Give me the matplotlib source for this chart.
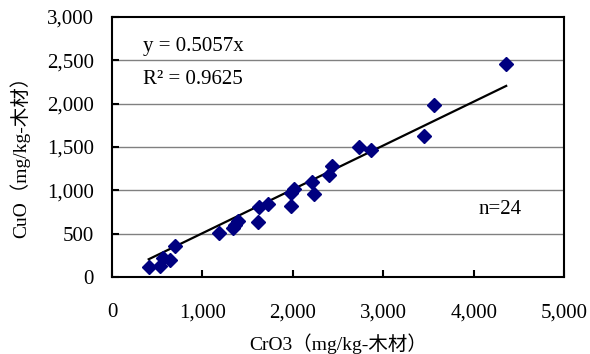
import matplotlib.pyplot as plt
import numpy as np

plt.rcParams['font.family'] = ['Liberation Serif', 'Noto Sans CJK JP']

# CrO3 vs CuO (mg/kg wood)
cro3 = [405, 534, 560, 644, 700, 1186, 1337, 1360, 1392, 1609, 1624, 1723,
        1974, 1977, 2014, 2213, 2239, 2404, 2430, 2728, 2861, 3450, 3557, 4360]
cuo = [112, 123, 219, 200, 362, 508, 565, 600, 650, 631, 804, 842,
       823, 969, 1015, 1092, 958, 1181, 1277, 1500, 1461, 1623, 1988, 2458]
slope = 0.5057
xticks = [0, 1000, 2000, 3000, 4000, 5000]
xtick_labels = ['0', '1,000', '2,000', '3,000', '4,000', '5,000']
yticks = [0, 500, 1000, 1500, 2000, 2500, 3000]
ytick_labels = ['0', '500', '1,000', '1,500', '2,000', '2,500', '3,000']

fig = plt.figure(figsize=(5.9, 3.54), dpi=100)
ax = fig.add_axes([0.190, 0.2175, 0.766, 0.7345])

ax.set_xlim(0, 5000)
ax.set_ylim(0, 3000)

# gridlines
for v in yticks[1:-1]:
    ax.axhline(v, color='#808080', lw=1.0, zorder=1)

# trendline
xl = np.array([min(cro3), max(cro3)])
ax.plot(xl, slope * xl, color='black', lw=1.6, zorder=2)

# points
ax.plot(cro3, cuo, 'D', color='#000080', markersize=7.5, ls='none', zorder=3)

ax.set_yticks(yticks)
ax.set_yticklabels(ytick_labels, fontsize=15)
ax.set_xticks(xticks)
ax.set_xticklabels(xtick_labels, fontsize=15)
ax.tick_params(axis='both', direction='in', length=5, width=1.5)
ax.tick_params(axis='y', pad=13)
ax.tick_params(axis='x', pad=19)

for s in ax.spines.values():
    s.set_linewidth(1.5)

ax.text(0.069, 0.888, 'y = 0.5057x', transform=ax.transAxes, fontsize=15,
        va='center')
ax.text(0.069, 0.758, 'R² = 0.9625', transform=ax.transAxes, fontsize=15,
        va='center')
ax.text(0.81, 0.26, 'n=24', transform=ax.transAxes, fontsize=15, va='center')

fig.text(338 / 590, 1 - 344 / 354, 'CrO3（mg/kg-木材）', fontsize=14,
         ha='center', va='center')
fig.text(20 / 590, 1 - 152 / 354, 'CuO（mg/kg-木材）', fontsize=14,
         ha='center', va='center', rotation=90)

fig.savefig('out.png', dpi=100)
